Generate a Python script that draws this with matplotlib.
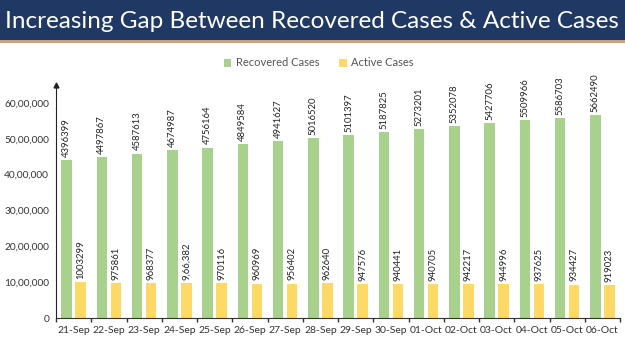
import matplotlib
matplotlib.use("Agg")
import matplotlib.pyplot as plt
from matplotlib.patches import Rectangle
import numpy as np

dates = ["21-Sep", "22-Sep", "23-Sep", "24-Sep", "25-Sep", "26-Sep", "27-Sep", "28-Sep",
         "29-Sep", "30-Sep", "01-Oct", "02-Oct", "03-Oct", "04-Oct", "05-Oct", "06-Oct"]
recovered = [4396399, 4497867, 4587613, 4674987, 4756164, 4849584, 4941627, 5016520,
             5101397, 5187825, 5273201, 5352078, 5427706, 5509966, 5586703, 5662490]
active = [1003299, 975861, 968377, 966382, 970116, 960969, 956402, 962640,
          947576, 940441, 940705, 942217, 944996, 937625, 934427, 919023]
active_labels = ["1003299", "975861", "968377", "9,66,382", "970116", "960969", "956402", "962640",
                 "947576", "940441", "940705", "942217", "944996", "937625", "934427", "919023"]
yticks = [0, 1000000, 2000000, 3000000, 4000000, 5000000, 6000000]
ytick_labels = ["0", "10,00,000", "20,00,000", "30,00,000", "40,00,000", "50,00,000", "60,00,000"]

green = "#a9d18e"
yellow = "#ffd966"
navy = "#1f3864"

plt.rcParams["font.family"] = ["Lato", "DejaVu Sans"]

fig = plt.figure(figsize=(6.25, 3.51), dpi=100)
fig.patch.set_facecolor("white")

# title banner
fig.patches.append(Rectangle((0, 1 - 40/351), 1, 40/351, transform=fig.transFigure,
                             facecolor=navy, edgecolor="none"))
fig.patches.append(Rectangle((0, 1 - 43/351), 1, 3/351, transform=fig.transFigure,
                             facecolor="#c9a27e", edgecolor="none"))
fig.text(0.008, 1 - 21/351, "Increasing Gap Between Recovered Cases & Active Cases",
         color="white", fontsize=17.5, va="center", ha="left")

ax = fig.add_axes([56/625, 1 - 318/351, 564/625, (318 - 85)/351])
x = np.arange(len(dates))
w = 0.3
b1 = ax.bar(x - 0.2, recovered, width=w, color=green, label="Recovered Cases")
b2 = ax.bar(x + 0.2, active, width=w, color=yellow, label="Active Cases")

for xi, v in zip(x, recovered):
    ax.text(xi - 0.2, v + 90000, str(v), rotation=90, ha="center", va="bottom",
            fontsize=6.8, color="#222222")
for xi, v, s in zip(x, active, active_labels):
    ax.text(xi + 0.2, v + 90000, s, rotation=90, ha="center", va="bottom",
            fontsize=6.8, color="#222222")

ax.set_xlim(-0.5, len(dates) - 0.5)
ax.set_ylim(0, 6500000)
ax.set_yticks(yticks)
ax.set_yticklabels(ytick_labels, fontsize=7.3, color="#333333")
ax.set_xticks(x)
ax.set_xticklabels(dates, fontsize=7.5, color="#333333")
ax.tick_params(axis="x", length=0, pad=6)
ax.tick_params(axis="y", length=0, pad=5)
ax.set_xticks(np.arange(-0.5, len(dates), 1), minor=True)
ax.tick_params(axis="x", which="minor", length=3, width=1, color="#333333")

for s in ["top", "right"]:
    ax.spines[s].set_visible(False)
ax.spines["left"].set_color("#222222")
ax.spines["bottom"].set_color("#333333")
ax.plot(0, 1, marker="^", color="#222222", markersize=3.5, transform=ax.transAxes, clip_on=False)

leg = fig.legend(handles=[b1, b2], loc="center", bbox_to_anchor=(0.51, 1 - 63/351), ncol=2,
                 frameon=False, fontsize=8, handlelength=0.7, handleheight=0.7,
                 columnspacing=1.8, handletextpad=0.4)
for t in leg.get_texts():
    t.set_color("#555555")

fig.savefig("out.png", dpi=100)
